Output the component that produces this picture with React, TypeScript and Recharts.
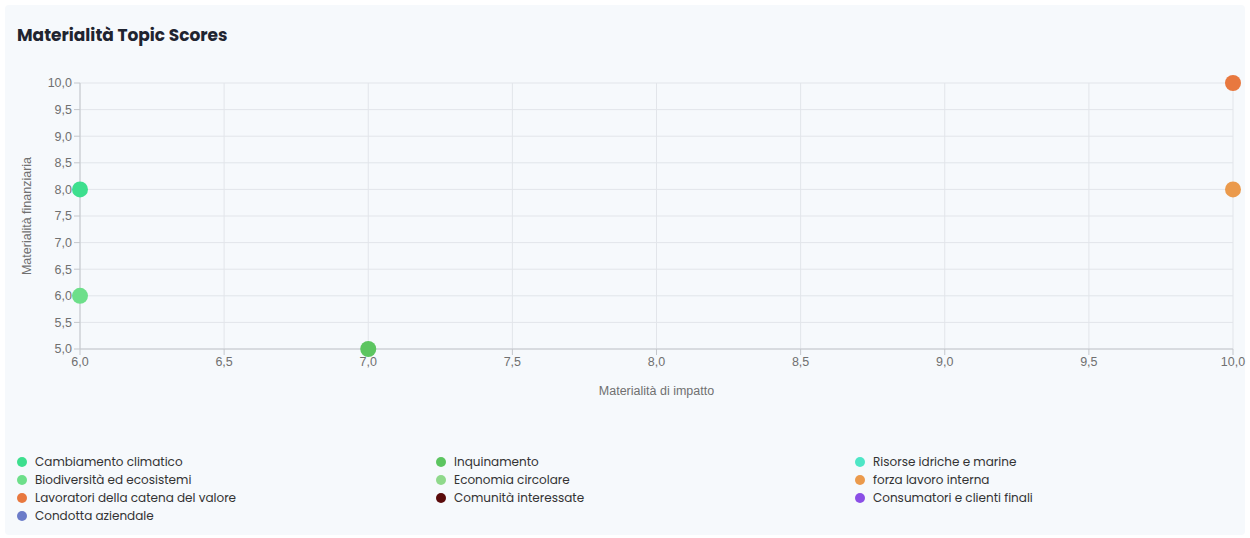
import { ScatterChart, Scatter, XAxis, YAxis, CartesianGrid } from "recharts";

// ESRS topics, in legend order
const topicNames = [
  "Cambiamento climatico",
  "Inquinamento",
  "Risorse idriche e marine",
  "Biodiversità ed ecosistemi",
  "Economia circolare",
  "forza lavoro interna",
  "Lavoratori della catena del valore",
  "Comunità interessate",
  "Consumatori e clienti finali",
  "Condotta aziendale",
];
const topicColors = [
  "#3ddf8e",
  "#5cc560",
  "#4ee6c6",
  "#6ddf8a",
  "#8fd98b",
  "#eb9a4c",
  "#e8783f",
  "#5a0b0b",
  "#8b4fe6",
  "#6b7cc9",
];
// materialità di impatto (x) / finanziaria (y); null = nessun punto
const impactScores: (number | null)[] = [6, 7, null, 6, null, 10, 10, null, null, null];
const financialScores: (number | null)[] = [8, 5, null, 6, null, 8, 10, null, null, null];

const xTicks = [6, 6.5, 7, 7.5, 8, 8.5, 9, 9.5, 10];
const yTicks = [5, 5.5, 6, 6.5, 7, 7.5, 8, 8.5, 9, 9.5, 10];

const fmt = (v: number) => v.toFixed(1).replace(".", ",");
const axisFont = { fontFamily: "'Liberation Sans', Arial, sans-serif", fontSize: 12.5, fill: "#707070" };
const uiFont = "Poppins, Inter, 'Noto Sans', sans-serif";

export default function App() {
  const series = topicNames.map((name, i) => ({
    name,
    color: topicColors[i],
    data:
      impactScores[i] != null && financialScores[i] != null
        ? [{ x: impactScores[i], y: financialScores[i] }]
        : [],
  }));

  return (
    <div style={{ position: "absolute", left: 0, top: 0, width: 1250, height: 538, background: "#fff" }}>
      <div
        style={{
          position: "absolute",
          left: 5,
          top: 5,
          width: 1240,
          height: 530,
          background: "#f6f9fc",
          borderRadius: 4,
        }}
      />
      <div
        style={{
          position: "absolute",
          left: 17,
          top: 22,
          fontFamily: uiFont,
          fontWeight: 700,
          fontSize: 17,
          color: "#1f2430",
        }}
      >
        Materialità Topic Scores
      </div>
      <div style={{ position: "absolute", left: 0, top: 55 }}>
        <ScatterChart width={1250} height={349} margin={{ top: 28, right: 17, left: 30, bottom: 5 }}>
          <CartesianGrid stroke="#e2e5ea" />
          <XAxis
            type="number"
            dataKey="x"
            domain={[6, 10]}
            ticks={xTicks}
            tickFormatter={fmt}
            tick={axisFont}
            stroke="#c4c7cc"
            height={50}
            label={{ value: "Materialità di impatto", position: "insideBottom", offset: 4, style: axisFont }}
          />
          <YAxis
            type="number"
            dataKey="y"
            domain={[5, 10]}
            ticks={yTicks}
            tickFormatter={fmt}
            tick={axisFont}
            stroke="#c4c7cc"
            width={50}
            label={{
              value: "Materialità finanziaria",
              angle: -90,
              position: "insideLeft",
              offset: -3,
              style: { ...axisFont, textAnchor: "middle" },
            }}
          />
          {series.map((s) => (
            <Scatter
              key={s.name}
              name={s.name}
              data={s.data}
              fill={s.color}
              shape={(p: any) => <circle cx={p.cx} cy={p.cy} r={8} fill={s.color} />}
              isAnimationActive={false}
            />
          ))}
        </ScatterChart>
      </div>
      {/* legend: 3 colonne */}
      <div
        style={{
          position: "absolute",
          left: 17,
          top: 453,
          width: 1260,
          display: "grid",
          gridTemplateColumns: "419px 419px 419px",
          rowGap: 0,
          fontFamily: uiFont,
          fontSize: 12,
          color: "#333",
        }}
      >
        {series.map((s) => (
          <div key={s.name} style={{ display: "flex", alignItems: "center", height: 18 }}>
            <span
              style={{
                display: "inline-block",
                width: 10,
                height: 10,
                borderRadius: 5,
                background: s.color,
                marginRight: 8,
              }}
            />
            {s.name}
          </div>
        ))}
      </div>
    </div>
  );
}
